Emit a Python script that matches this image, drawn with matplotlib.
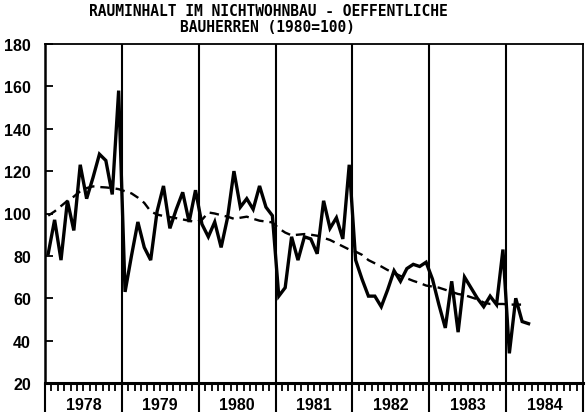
import matplotlib.pyplot as plt
import numpy as np

title_lines = ['RAUMINHALT IM NICHTWOHNBAU - OEFFENTLICHE', 'BAUHERREN (1980=100)']
years = ['1978', '1979', '1980', '1981', '1982', '1983', '1984']

# monthly index values, 1980=100 (Jan 1978 .. Apr 1984)
v1978 = [81, 97, 78, 106, 92, 123, 107, 117, 128, 125, 109, 158]
v1979 = [63, 80, 96, 84, 78, 101, 113, 93, 102, 110, 96, 111]
v1980 = [95, 89, 96, 84, 98, 120, 103, 107, 102, 113, 103, 99]
v1981 = [61, 65, 89, 78, 89, 88, 81, 106, 93, 98, 88, 123]
v1982 = [78, 69, 61, 61, 56, 64, 73, 68, 74, 76, 75, 77]
v1983 = [69, 57, 46, 68, 44, 70, 65, 60, 56, 61, 57, 83]
v1984 = [34, 60, 49, 48]

# trend (dashed), Jan 1978 .. Mar 1984
t1978 = [99, 101, 103.5, 106, 108, 110.5, 112, 112.8, 112.5, 112.3, 112, 111.5]
t1979 = [110.5, 109.5, 107.5, 105, 101, 99.5, 98.8, 98.3, 97.8, 97.2, 96.6, 96]
t1980 = [97, 100.5, 100, 99.2, 98.5, 97.5, 98, 98.5, 97.5, 96.6, 96.2, 95.8]
t1981 = [93, 91, 89.7, 90, 90.3, 90, 89.5, 88.5, 87.5, 86, 84.5, 83]
t1982 = [82, 80.5, 78, 76.5, 75, 73.3, 72, 70.5, 69.4, 68.2, 67.2, 66]
t1983 = [65.5, 65, 64, 63, 62, 61.5, 60.5, 59.5, 58, 57.3, 57.3, 57.3]
t1984 = [57, 57, 57]

vals = np.array(v1978 + v1979 + v1980 + v1981 + v1982 + v1983 + v1984)
trend = np.array(t1978 + t1979 + t1980 + t1981 + t1982 + t1983 + t1984)

numfont = ['Liberation Sans', 'DejaVu Sans']
titlefont = ['DejaVu Sans Mono', 'DejaVu Sans']

fig = plt.figure(figsize=(5.87, 4.14), dpi=100)
ax = fig.add_axes([45/587, 1-384/414, 538/587, 339/414])

ax.plot(np.arange(len(vals)), vals, color='k', lw=2.4, solid_joinstyle='miter')
ax.plot(np.arange(len(trend)), trend, color='k', lw=1.7, ls=(0, (4, 2.5)))

nyr = len(years)
bounds = np.arange(nyr+1)*12 - 0.5
for b in bounds[1:-1]:
    ax.axvline(b, color='k', lw=1.5)

ax.set_xlim(-0.5, nyr*12-0.5)
ax.set_ylim(20, 180)

ax.set_xticks(bounds)
ax.set_xticklabels([])
ax.set_xticks([m-0.5 for m in range(nyr*12) if m % 12 != 0], minor=True)
ax.tick_params(axis='x', which='major', direction='out', length=21, width=1.5)
ax.tick_params(axis='x', which='minor', direction='out', length=6, width=1.3)

ax.set_yticks(np.arange(20, 181, 20))
ax.tick_params(axis='y', which='major', direction='in', length=6, width=1.3, pad=10)
for lab in ax.get_yticklabels():
    lab.set_family(numfont)
    lab.set_fontweight('bold')
    lab.set_fontsize(11.5)

for i, y in enumerate(years):
    ax.text(i*12+5.5, -0.062, y, transform=ax.get_xaxis_transform(),
            ha='center', va='center', fontsize=11.5, fontweight='bold', family=numfont)

ax.spines['left'].set_linewidth(1.8)
ax.spines['bottom'].set_linewidth(2.2)
ax.spines['top'].set_linewidth(1.3)
ax.spines['right'].set_linewidth(1.3)

fig.text(268/587, 1-12/414, title_lines[0], ha='center', va='center',
         fontsize=10.5, fontweight='bold', family=titlefont)
fig.text(268/587, 1-27/414, title_lines[1], ha='center', va='center',
         fontsize=10.5, fontweight='bold', family=titlefont)

fig.savefig('out.png', dpi=100)
